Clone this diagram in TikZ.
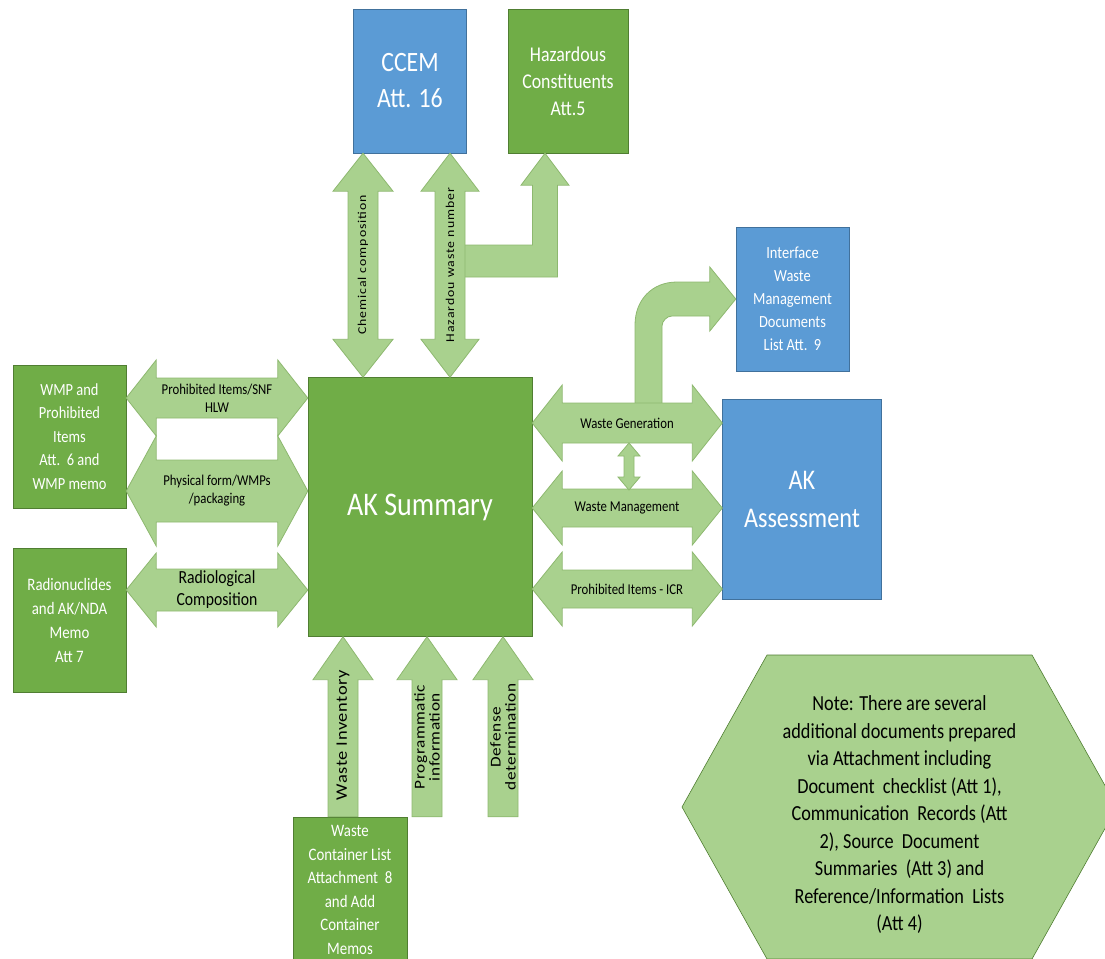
\documentclass[tikz,border=0pt]{standalone}
\usepackage{fontspec}
\setmainfont[FakeStretch=0.85]{Carlito}
\newfontfamily\upfont[FakeStretch=1.15,LetterSpace=8]{Carlito}
\newfontfamily\lowfont[FakeStretch=1.15,LetterSpace=4]{Carlito}
\usetikzlibrary{calc}
\definecolor{boxblue}{HTML}{5B9BD5}
\definecolor{boxblueline}{HTML}{41719C}
\definecolor{boxgreen}{HTML}{70AD47}
\definecolor{boxgreenline}{HTML}{507E32}
\definecolor{arrowgreen}{HTML}{A9D18E}
\definecolor{arrowline}{HTML}{8DB86F}
\tikzset{
  bluebox/.style={draw=boxblueline, fill=boxblue, text=white, align=center, inner sep=2pt},
  greenbox/.style={draw=boxgreenline, fill=boxgreen, text=white, align=center, inner sep=2pt},
  blockarrow/.style={draw=arrowline, fill=arrowgreen, line width=0.8pt, line join=miter},
  notehex/.style={draw=boxgreenline, fill=arrowgreen, line width=0.6pt},
  arrowlabel/.style={font=\fontsize{15}{18}\selectfont, align=center, inner sep=0pt},
  uplabel/.style={font=\upfont\fontsize{12}{14}\selectfont, rotate=90, inner sep=0pt},
  lowlabel/.style={font=\lowfont\fontsize{15}{15}\selectfont, rotate=90, align=center, inner sep=0pt}
}
% block arrows: tips #1 and #2, shaft half width #3, head half width #4, head length #5
\newcommand{\dblarrowh}[5]{%
  \path[blockarrow] let \p1=#1, \p2=#2 in
    (\x1,\y1) -- (\x1+#5,\y1+#4) -- (\x1+#5,\y1+#3) -- (\x2-#5,\y2+#3) -- (\x2-#5,\y2+#4)
    -- (\x2,\y2) -- (\x2-#5,\y2-#4) -- (\x2-#5,\y2-#3) -- (\x1+#5,\y1-#3) -- (\x1+#5,\y1-#4) -- cycle;}
\newcommand{\dblarrowv}[5]{%
  \path[blockarrow] let \p1=#1, \p2=#2 in
    (\x1,\y1) -- (\x1+#4,\y1-#5) -- (\x1+#3,\y1-#5) -- (\x2+#3,\y2+#5) -- (\x2+#4,\y2+#5)
    -- (\x2,\y2) -- (\x2-#4,\y2+#5) -- (\x2-#3,\y2+#5) -- (\x1-#3,\y1-#5) -- (\x1-#4,\y1-#5) -- cycle;}
\newcommand{\upblock}[5]{%
  \path[blockarrow] let \p1=#1, \p2=#2 in
    (\x1-#3,\y1) -- (\x2-#3,\y2-#5) -- (\x2-#4,\y2-#5) -- (\x2,\y2) -- (\x2+#4,\y2-#5)
    -- (\x2+#3,\y2-#5) -- (\x1+#3,\y1) -- cycle;}

\begin{document}
\begin{tikzpicture}[x=1pt, y=-1pt]
  \useasboundingbox (0,0) rectangle (1105,958);

  % boxes
  \node[bluebox, minimum width=113pt, minimum height=144pt, font=\fontsize{28}{36}\selectfont] (ccem) at (410,81) {CCEM\\Att. 16};
  \node[greenbox, minimum width=120pt, minimum height=144pt, font=\fontsize{21}{27}\selectfont] (hazc) at (568,81) {Hazardous\\Constituents\\Att.5};
  \node[greenbox, minimum width=224pt, minimum height=259pt, font=\fontsize{33}{40}\selectfont] (aksum) at (420,507) {AK Summary};
  \node[bluebox, minimum width=159pt, minimum height=200pt, font=\fontsize{28.5}{38}\selectfont] (akass) at (802,499) {AK\\Assessment};
  \node[bluebox, minimum width=113pt, minimum height=144pt, font=\fontsize{17}{23}\selectfont] (iface) at (792.5,299) {Interface\\Waste\\Management\\Documents\\List Att.\ \ 9};
  \node[greenbox, minimum width=113pt, minimum height=143pt, font=\fontsize{17}{23.5}\selectfont] (wmp) at (69.5,436.5) {WMP and\\Prohibited\\Items\\Att.\ \ 6 and\\WMP memo};
  \node[greenbox, minimum width=113pt, minimum height=144pt, font=\fontsize{17.5}{24}\selectfont] (radio) at (69.5,620) {Radionuclides\\and AK/NDA\\Memo\\Att 7};
  \node[greenbox, minimum width=114pt, minimum height=146pt, font=\fontsize{17.5}{23.5}\selectfont] (wcl) at (350,890) {Waste\\Container List\\Attachment\ \ 8\\and Add\\Container\\Memos};

  % arrow centres
  \coordinate (prohibc) at (217,398);
  \coordinate (physc) at (217,491);
  \coordinate (radiolc) at (217,590);
  \coordinate (wgenc) at (627,423);
  \coordinate (wmanc) at (627,508);
  \coordinate (picrc) at (627,589);
  \coordinate (chemc) at (363,265);
  \coordinate (hwnc) at (450,265);
  \coordinate (winvc) at (343,735);
  \coordinate (progc) at (427,737);
  \coordinate (defnc) at (503,737);
  \coordinate (hztip) at ($(hazc.south)+(-23,0)$);

  % arrows
  \dblarrowh{(wmp.east |- prohibc)}{(aksum.west |- prohibc)}{20pt}{38pt}{30pt}
  \dblarrowh{(wmp.east |- physc)}{(aksum.west |- physc)}{31pt}{55pt}{30pt}
  \dblarrowh{(radio.east |- radiolc)}{(aksum.west |- radiolc)}{21pt}{37pt}{30pt}
  \path[blockarrow] let \p1=(iface.west), \p2=(wgenc) in
    (\x2+8pt,\y2) -- (\x2+8pt,\y1-26pt) .. controls (\x2+8pt,\y1-1pt) and (\x2+25pt,\y1+17pt) .. (\x2+50pt,\y1+17pt)
    -- (\x1-26pt,\y1+17pt) -- (\x1-26pt,\y1+32pt) -- (\x1,\y1) -- (\x1-26pt,\y1-32pt) -- (\x1-26pt,\y1-17pt)
    -- (\x2+45pt,\y1-17pt) .. controls (\x2+40pt,\y1-17pt) and (\x2+35pt,\y1-22pt) .. (\x2+35pt,\y1-27pt)
    -- (\x2+35pt,\y2) -- cycle;
  \dblarrowh{(aksum.east |- wgenc)}{(akass.west |- wgenc)}{20pt}{38pt}{30pt}
  \dblarrowh{(aksum.east |- wmanc)}{(akass.west |- wmanc)}{19pt}{37pt}{30pt}
  \dblarrowh{(aksum.east |- picrc)}{(akass.west |- picrc)}{19pt}{37pt}{30pt}
  \dblarrowv{($(wgenc)+(2,20)$)}{($(wmanc)+(2,-18)$)}{5pt}{11pt}{13pt}
  \path[blockarrow] let \p1=(hztip), \p2=(hwnc) in
    (\x2,\y2+20pt) -- (\x1-12.5pt,\y2+20pt) -- (\x1-12.5pt,\y1-32pt) -- (\x1-24pt,\y1-32pt) -- (\x1,\y1)
    -- (\x1+24pt,\y1-32pt) -- (\x1+12.5pt,\y1-32pt) -- (\x1+12.5pt,\y2-12pt) -- (\x2,\y2-12pt) -- cycle;
  \dblarrowv{(ccem.south -| chemc)}{(aksum.north -| chemc)}{15pt}{30pt}{38pt}
  \dblarrowv{(ccem.south -| hwnc)}{(aksum.north -| hwnc)}{15pt}{29pt}{38pt}
  \upblock{(wcl.north -| winvc)}{(aksum.south -| winvc)}{15pt}{30pt}{43pt}
  \upblock{(wcl.north -| progc)}{(aksum.south -| progc)}{15pt}{30pt}{43pt}
  \upblock{(wcl.north -| defnc)}{(aksum.south -| defnc)}{15pt}{30pt}{43pt}

  % arrow labels
  \node[arrowlabel] (prohib) at (prohibc) {Prohibited Items/SNF\\HLW};
  \node[arrowlabel] (phys) at (physc) {Physical form/WMPs\\/packaging};
  \node[arrowlabel, font=\fontsize{18.5}{22}\selectfont] (radiol) at (radiolc) {Radiological\\Composition};
  \node[arrowlabel] (wgen) at (wgenc) {Waste Generation};
  \node[arrowlabel] (wman) at (wmanc) {Waste Management};
  \node[arrowlabel] (picr) at (picrc) {Prohibited Items - ICR};
  \node[uplabel] (chem) at (chemc) {Chemical composition};
  \node[uplabel] (hwn) at (hwnc) {Hazardou waste number};
  \node[lowlabel, font=\lowfont\fontsize{16}{16}\selectfont] (winv) at (winvc) {Waste Inventory};
  \node[lowlabel] (prog) at (progc) {Programmatic\\information};
  \node[lowlabel] (defn) at (defnc) {Defense\\determination};

  % note
  \coordinate (notec) at (899.5,807);
  \draw[notehex] ($(notec)+(-217.5,0)$) -- ($(notec)+(-132.5,-152)$) -- ($(notec)+(132.5,-152)$)
    -- ($(notec)+(217.5,0)$) -- ($(notec)+(132.5,152)$) -- ($(notec)+(-132.5,152)$) -- cycle;
  \node[align=center, font=\fontsize{21.5}{27.5}\selectfont] (note) at ($(notec)+(0,8)$) {Note: There are several\\additional documents prepared\\via Attachment including\\Document\ \ checklist (Att 1),\\Communication\ \ Records (Att\\2), Source\ \ Document\\Summaries\ \ (Att 3) and\\Reference/Information\ \ Lists\\(Att 4)};
\end{tikzpicture}
\end{document}
